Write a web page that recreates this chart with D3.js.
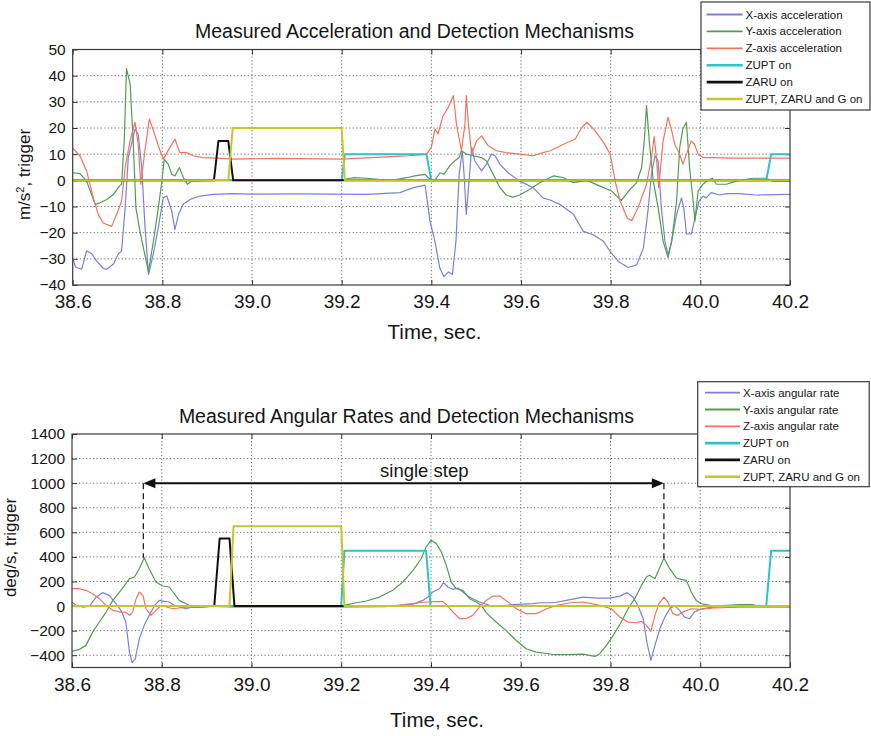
<!DOCTYPE html>
<html><head><meta charset="utf-8">
<script src="https://cdn.jsdelivr.net/npm/d3@7"></script>
<style>
body{margin:0;background:#fff}
text{font-family:"Liberation Sans",Arial,Helvetica,sans-serif;fill:#151515}
</style>
</head><body>
<svg id="chart" width="871" height="736"></svg>
<script>
// ---------------- DATA ----------------
const timeTicks = [38.6, 38.8, 39.0, 39.2, 39.4, 39.6, 39.8, 40.0, 40.2];
const accTicks = [-40, -30, -20, -10, 0, 10, 20, 30, 40, 50];
const gyrTicks = [-400, -200, 0, 200, 400, 600, 800, 1000, 1200, 1400];

const accLabels = ["X-axis acceleration", "Y-axis acceleration", "Z-axis acceleration", "ZUPT on", "ZARU on", "ZUPT, ZARU and G on"];
const gyrLabels = ["X-axis angular rate", "Y-axis angular rate", "Z-axis angular rate", "ZUPT on", "ZARU on", "ZUPT, ZARU and G on"];

// [time (s), value]
const accX = [[38.600,-29.7],[38.606,-33],[38.613,-33.6],[38.620,-34],[38.631,-27],[38.642,-28],[38.654,-31],[38.668,-33.6],[38.676,-34],[38.691,-32],[38.702,-28],[38.709,-27],[38.717,-10.5],[38.724,8.7],[38.739,19.6],[38.746,17.7],[38.754,4.9],[38.761,-17],[38.769,-36],[38.780,-28],[38.791,-18],[38.802,-6.7],[38.810,-6],[38.821,-11.8],[38.828,-18.8],[38.836,-13],[38.847,-9],[38.862,-7.3],[38.884,-6],[38.914,-5.4],[38.958,-5.1],[39.0,-5.3],[39.1,-5.2],[39.256,-5.4],[39.330,-4.7],[39.360,-2.8],[39.386,-1.8],[39.397,-15.6],[39.408,-23.3],[39.419,-33.6],[39.428,-36.8],[39.438,-35],[39.447,-36],[39.455,-23],[39.462,2.3],[39.469,11.3],[39.473,2.3],[39.478,-13],[39.484,-0.3],[39.490,12.6],[39.497,7.4],[39.512,3.6],[39.523,6.2],[39.534,10],[39.542,9.4],[39.553,6.2],[39.571,2.9],[39.597,-0.3],[39.627,-2.8],[39.649,-6.7],[39.665,-7.5],[39.687,-9.2],[39.717,-13],[39.739,-19.5],[39.761,-20.8],[39.784,-23.3],[39.799,-27.2],[39.817,-31],[39.839,-33.3],[39.858,-32.3],[39.873,-25.9],[39.884,-10.5],[39.891,2.3],[39.899,9.4],[39.906,7.4],[39.913,-10.5],[39.921,-23.3],[39.928,-28.5],[39.936,-23.3],[39.947,-13],[39.958,-6.7],[39.963,-10.5],[39.969,-20.5],[39.980,-20.5],[39.990,-13],[39.997,-8],[40.006,-6],[40.013,-6.7],[40.024,-4.7],[40.043,-5.6],[40.058,-5.1],[40.087,-5.1],[40.124,-5.6],[40.2,-5.4]];
const accY = [[38.6,2.9],[38.616,2.6],[38.631,-0.3],[38.642,-5.4],[38.650,-9.2],[38.661,-8.6],[38.676,-7.3],[38.691,-5.4],[38.704,-2.2],[38.709,-1.5],[38.715,15],[38.720,42.7],[38.728,36.9],[38.735,15],[38.741,-10.5],[38.750,-19.5],[38.761,-28.5],[38.769,-34.9],[38.780,-23.3],[38.791,-10.5],[38.799,-0.3],[38.804,8],[38.813,6.2],[38.821,2.3],[38.828,1.7],[38.838,4.9],[38.847,1],[38.856,-1.5],[38.865,-0.3],[38.9,0],[39.2,0.2],[39.226,1],[39.256,0.8],[39.282,0.4],[39.32,0.3],[39.345,1],[39.363,1.7],[39.386,2.3],[39.393,1],[39.404,-0.3],[39.412,1],[39.419,2.9],[39.428,2.3],[39.441,5.5],[39.452,7.4],[39.462,8.7],[39.467,11.3],[39.478,10],[39.493,9.4],[39.512,8.7],[39.523,7.4],[39.538,2.3],[39.553,-2.8],[39.567,-5.6],[39.582,-6.4],[39.597,-5.6],[39.619,-3.5],[39.642,-0.9],[39.664,1],[39.673,1.7],[39.695,1],[39.717,-0.9],[39.747,0],[39.776,-2.2],[39.802,-4.1],[39.824,-7.7],[39.843,-3.5],[39.858,-0.9],[39.869,4.9],[39.875,15.1],[39.880,28.6],[39.886,15.1],[39.895,-0.3],[39.906,-10.5],[39.917,-23.3],[39.928,-29.5],[39.936,-23.3],[39.947,-8],[39.954,12.6],[39.961,19.6],[39.969,22.2],[39.976,4.9],[39.984,-8],[39.988,-15.6],[39.995,-4.1],[40.006,-1.5],[40.017,0],[40.027,0.8],[40.036,-1.5],[40.058,-1.5],[40.087,0],[40.117,0.8],[40.147,0.8],[40.161,-0.3],[40.2,-0.3]];
const accZ = [[38.6,12.3],[38.616,9.4],[38.631,3.6],[38.646,-6.7],[38.657,-13],[38.668,-16.3],[38.687,-17.6],[38.698,-13],[38.709,-8],[38.717,4.9],[38.728,15.1],[38.739,22.2],[38.746,13.8],[38.752,-1.5],[38.761,11.3],[38.771,23.5],[38.780,19],[38.791,13.2],[38.802,8.1],[38.817,12.6],[38.828,15.8],[38.839,10.6],[38.854,10.6],[38.869,9.4],[38.891,8.7],[38.921,8.5],[38.958,8.1],[39.05,8.4],[39.2,8.1],[39.3,9],[39.35,9.4],[39.389,10],[39.400,12.6],[39.408,19.6],[39.415,17.7],[39.426,24.7],[39.438,28],[39.449,32.4],[39.456,21.5],[39.467,11.3],[39.475,21.5],[39.478,32.4],[39.482,22.8],[39.490,10],[39.501,15.1],[39.512,17],[39.527,13.2],[39.545,11.3],[39.567,10.6],[39.597,10],[39.627,9.4],[39.649,10.6],[39.665,11.3],[39.695,13.8],[39.721,15.8],[39.736,20.3],[39.747,22.2],[39.765,19],[39.784,14.5],[39.799,10],[39.810,-0.3],[39.821,-8],[39.837,-14.4],[39.847,-15.4],[39.861,-10.5],[39.880,-1.5],[39.891,8.7],[39.897,16.7],[39.902,8.7],[39.907,-2.8],[39.917,15.1],[39.928,24.1],[39.936,19],[39.943,13.8],[39.954,10],[39.961,6.2],[39.969,10],[39.980,15.1],[39.987,13.8],[39.995,10],[40.006,8.7],[40.028,8.7],[40.073,8.5],[40.2,8.5]];
const accZupt = [[38.6,0],[39.2,0],[39.207,10],[39.389,10],[39.400,0],[40.147,0],[40.158,10],[40.2,10]];
const accZaru = [[38.6,0],[38.915,0],[38.925,15],[38.947,15],[38.958,0],[39.2,0],[40.2,0]];
const accAll = [[38.6,0],[38.947,0],[38.957,20],[39.2,20],[39.207,0],[40.2,0]];

const gyrX = [[38.6,33],[38.609,5],[38.624,-8],[38.639,0],[38.654,73],[38.668,109],[38.683,87],[38.698,19],[38.709,-35],[38.720,-130],[38.728,-375],[38.734,-461],[38.741,-429],[38.750,-266],[38.761,-157],[38.772,-76],[38.784,5],[38.795,46],[38.806,38],[38.817,33],[38.828,5],[38.839,-8],[38.854,-22],[38.869,-8],[38.891,-5],[38.92,0],[39.33,5],[39.360,16],[39.382,46],[39.393,73],[39.404,114],[39.419,141],[39.428,190],[39.438,155],[39.449,136],[39.460,147],[39.471,114],[39.482,81],[39.493,60],[39.508,33],[39.530,5],[39.553,0],[39.582,11],[39.627,19],[39.643,27],[39.673,27],[39.702,46],[39.739,73],[39.769,65],[39.799,65],[39.821,81],[39.837,109],[39.850,73],[39.861,5],[39.873,-103],[39.881,-293],[39.890,-442],[39.899,-320],[39.910,-185],[39.921,-90],[39.932,-22],[39.943,5],[39.954,-35],[39.965,-90],[39.976,-103],[39.987,-49],[39.999,-27],[40.013,-16],[40.03,-8],[40.06,0],[40.2,0]];
const gyrY = [[38.6,-369],[38.616,-353],[38.631,-320],[38.646,-212],[38.661,-130],[38.676,-49],[38.691,46],[38.709,128],[38.728,223],[38.739,236],[38.750,304],[38.761,394],[38.772,304],[38.787,195],[38.802,163],[38.817,155],[38.828,100],[38.839,46],[38.854,19],[38.869,-8],[38.891,-8],[38.92,0],[39.2,0],[39.207,5],[39.233,27],[39.256,41],[39.285,73],[39.315,128],[39.337,195],[39.360,290],[39.378,385],[39.389,480],[39.400,535],[39.412,508],[39.423,440],[39.434,331],[39.445,195],[39.456,141],[39.471,128],[39.486,60],[39.501,33],[39.512,5],[39.523,-54],[39.545,-130],[39.567,-198],[39.590,-280],[39.612,-347],[39.634,-375],[39.663,-388],[39.673,-396],[39.702,-396],[39.739,-391],[39.765,-410],[39.776,-388],[39.791,-320],[39.806,-239],[39.824,-130],[39.839,-22],[39.854,60],[39.869,168],[39.880,236],[39.887,250],[39.899,223],[39.919,391],[39.932,304],[39.947,228],[39.958,217],[39.969,209],[39.980,114],[39.991,46],[40.002,19],[40.013,11],[40.03,0],[40.087,11],[40.117,11],[40.13,0],[40.2,0]];
const gyrZ = [[38.6,141],[38.616,141],[38.631,128],[38.646,100],[38.661,60],[38.676,5],[38.691,-35],[38.709,-49],[38.720,-49],[38.728,-76],[38.735,-49],[38.743,60],[38.750,114],[38.758,87],[38.765,-22],[38.776,-76],[38.787,-35],[38.799,5],[38.810,-8],[38.825,-22],[38.839,-16],[38.854,-8],[38.9,0],[38.96,-8],[39.2,-8],[39.3,-5],[39.389,33],[39.426,38],[39.438,0],[39.449,-49],[39.464,-103],[39.478,-103],[39.493,-76],[39.508,-8],[39.523,46],[39.538,81],[39.553,81],[39.567,46],[39.590,-22],[39.612,-62],[39.634,-62],[39.643,-49],[39.658,-22],[39.680,5],[39.710,27],[39.739,33],[39.776,5],[39.802,-22],[39.821,-90],[39.839,-130],[39.858,-136],[39.869,-125],[39.880,-157],[39.890,-206],[39.899,-76],[39.908,19],[39.919,73],[39.928,33],[39.939,-62],[39.950,-76],[39.961,-49],[39.980,-22],[39.999,-27],[40.03,-16],[40.087,-8],[40.2,-8]];
const gyrZupt = [[38.6,0],[39.2,0],[39.207,450],[39.389,450],[39.399,0],[40.147,0],[40.158,450],[40.2,450]];
const gyrZaru = [[38.6,0],[38.917,0],[38.929,550],[38.951,550],[38.962,0],[39.2,0],[40.2,0]];
const gyrAll = [[38.6,0],[38.951,0],[38.960,650],[39.2,650],[39.207,0],[40.2,0]];

// "single step" annotation: start/end times, arrow level, peaks
const stepTimes = [38.759, 39.919];
const stepPeaks = [394, 391];
const stepArrowLevel = 1000;
const stepLabel = "single step";

// ---------------- STYLE ----------------
const colors = ["#7b80dc", "#4f9e50", "#f4735c", "#2cc4c8", "#111111", "#c6c62a"];
const widths = [1.2, 1.2, 1.2, 2, 2, 2];

const svg = d3.select("#chart");

function drawPanel(cfg) {
  const x = d3.scaleLinear().domain([38.6, 40.2]).range([cfg.left, cfg.right]);
  const y = d3.scaleLinear().domain(cfg.yDomain).range([cfg.bottom, cfg.top]);
  const g = svg.append("g");
  const clipId = "clip" + cfg.id;
  g.append("clipPath").attr("id", clipId).append("rect")
    .attr("x", cfg.left).attr("y", cfg.top)
    .attr("width", cfg.right - cfg.left).attr("height", cfg.bottom - cfg.top);

  // grid
  const grid = g.append("g").attr("stroke", "#6a6a6a").attr("stroke-width", 1).attr("stroke-dasharray", "1.2,2.3");
  timeTicks.slice(1, -1).forEach(t => grid.append("line")
    .attr("x1", x(t)).attr("x2", x(t)).attr("y1", cfg.top).attr("y2", cfg.bottom));
  cfg.yTicks.filter(v => y(v) > cfg.top + 1 && y(v) < cfg.bottom - 1).forEach(v => grid.append("line")
    .attr("x1", cfg.left).attr("x2", cfg.right).attr("y1", y(v)).attr("y2", y(v)));

  // axes
  const fmt = d3.format(".1f");
  const ax = g.append("g").attr("transform", `translate(0,${cfg.bottom})`)
    .call(d3.axisBottom(x).tickValues(timeTicks).tickFormat(fmt).tickSizeInner(-5).tickSizeOuter(0).tickPadding(10));
  ax.selectAll("text").style("font-size", "19px");
  const axT = g.append("g").attr("transform", `translate(0,${cfg.top})`)
    .call(d3.axisTop(x).tickValues(timeTicks).tickFormat("").tickSizeInner(-5).tickSizeOuter(0));
  const ay = g.append("g").attr("transform", `translate(${cfg.left},0)`)
    .call(d3.axisLeft(y).tickValues(cfg.yTicks).tickFormat(d3.format("d")).tickSizeInner(-5).tickSizeOuter(0).tickPadding(7));
  ay.selectAll("text").style("font-size", "15.5px");
  const ayR = g.append("g").attr("transform", `translate(${cfg.right},0)`)
    .call(d3.axisRight(y).tickValues(cfg.yTicks).tickFormat("").tickSizeInner(-5).tickSizeOuter(0));
  [ax, axT, ay, ayR].forEach(a => {
    a.select(".domain").remove();
    a.selectAll("line").attr("stroke", "#333");
    a.selectAll("text").attr("fill", "#151515").style("font-family", '"Liberation Sans",Arial,sans-serif');
  });

  // lines
  const line = d3.line().x(d => x(d[0])).y(d => y(d[1]));
  const lg = g.append("g").attr("clip-path", `url(#${clipId})`);
  cfg.series.forEach((s, i) => lg.append("path").datum(s)
    .attr("d", line).attr("fill", "none")
    .attr("stroke", colors[i]).attr("stroke-width", widths[i]).attr("stroke-linejoin", "round"));

  // frame
  g.append("rect").attr("x", cfg.left).attr("y", cfg.top)
    .attr("width", cfg.right - cfg.left).attr("height", cfg.bottom - cfg.top)
    .attr("fill", "none").attr("stroke", "#3a3a3a").attr("stroke-width", 1.2);

  // title
  g.append("text").attr("x", cfg.titleX).attr("y", cfg.top - 11.5)
    .attr("text-anchor", "middle").style("font-size", "19.5px").text(cfg.title);
  // x label
  g.append("text").attr("x", cfg.xlabX).attr("y", cfg.xlabY)
    .attr("text-anchor", "middle").style("font-size", "20.5px").text("Time, sec.");
  // y label
  const yl = g.append("text").attr("transform", `translate(${cfg.ylabX},${cfg.ylabY}) rotate(-90)`)
    .attr("text-anchor", "middle").style("font-size", "17px");
  cfg.ylabParts.forEach(p => {
    const t = yl.append("tspan").text(p.t);
    if (p.sup) t.attr("baseline-shift", "super").style("font-size", "11px");
  });

  // legend
  const L = cfg.legend;
  const lgd = g.append("g");
  lgd.append("rect").attr("x", L.x).attr("y", L.y).attr("width", L.w).attr("height", L.h)
    .attr("fill", "#fff").attr("stroke", "#3a3a3a").attr("stroke-width", 1.2);
  cfg.labels.forEach((lab, i) => {
    const yy = L.row0 + i * L.dy;
    lgd.append("line").attr("x1", L.lx1).attr("x2", L.lx2).attr("y1", yy).attr("y2", yy)
      .attr("stroke", colors[i]).attr("stroke-width", widths[i] + 0.6);
    lgd.append("text").attr("x", L.tx).attr("y", yy).attr("dy", "0.35em")
      .style("font-size", "11.5px").text(lab);
  });
  return {x, y, g};
}

drawPanel({
  id: "a", left: 72.7, right: 790, top: 49.5, bottom: 285,
  yDomain: [-40, 50], yTicks: accTicks,
  series: [accX, accY, accZ, accZupt, accZaru, accAll], labels: accLabels,
  title: "Measured Acceleration and Detection Mechanisms", titleX: 414.5,
  xlabX: 434.5, xlabY: 338.5,
  ylabX: 30, ylabY: 174.5, ylabParts: [{t: "m/s"}, {t: "2", sup: true}, {t: ", trigger"}],
  legend: {x: 701, y: 2, w: 169, h: 108, row0: 14.5, dy: 16.9, lx1: 706.7, lx2: 742.7, tx: 745.5}
});

const p2 = drawPanel({
  id: "b", left: 72, right: 790, top: 434, bottom: 667.5,
  yDomain: [-500, 1400], yTicks: gyrTicks,
  series: [gyrX, gyrY, gyrZ, gyrZupt, gyrZaru, gyrAll], labels: gyrLabels,
  title: "Measured Angular Rates and Detection Mechanisms", titleX: 406.5,
  xlabX: 437, xlabY: 727,
  ylabX: 16, ylabY: 547.5, ylabParts: [{t: "deg/s, trigger"}],
  legend: {x: 697.7, y: 381.7, w: 171.5, h: 105, row0: 392.7, dy: 16.8, lx1: 705, lx2: 740, tx: 743}
});

// annotation
(function () {
  const {x, y, g} = p2;
  const a = g.append("g");
  const ya = y(stepArrowLevel);
  const x1 = x(stepTimes[0]), x2 = x(stepTimes[1]);
  stepTimes.forEach((t, i) => a.append("line")
    .attr("x1", x(t)).attr("x2", x(t)).attr("y1", ya).attr("y2", y(stepPeaks[i]))
    .attr("stroke", "#222").attr("stroke-width", 1.3).attr("stroke-dasharray", "6,4"));
  a.append("line").attr("x1", x1 + 8).attr("x2", x2 - 8).attr("y1", ya).attr("y2", ya)
    .attr("stroke", "#111").attr("stroke-width", 2);
  a.append("path").attr("d", `M${x1},${ya} L${x1 + 12},${ya - 5} L${x1 + 12},${ya + 5} Z`).attr("fill", "#111");
  a.append("path").attr("d", `M${x2},${ya} L${x2 - 12},${ya - 5} L${x2 - 12},${ya + 5} Z`).attr("fill", "#111");
  a.append("text").attr("x", x(39.385)).attr("y", y(1050))
    .attr("text-anchor", "middle").style("font-size", "18.5px").text(stepLabel);
})();
</script>
</body></html>
